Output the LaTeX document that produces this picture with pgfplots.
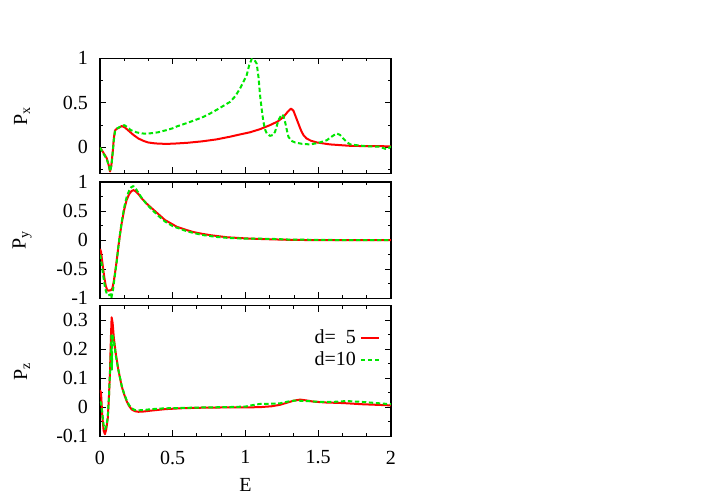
\documentclass[border=0pt]{standalone}
\usepackage{fontspec}
\setmainfont{Liberation Serif}
\usepackage{pgfplots}
\pgfplotsset{compat=1.18}
\definecolor{gpred}{RGB}{255,0,0}
\definecolor{gpgreen}{RGB}{0,230,0}
\pgfplotsset{
  panel/.style={
    scale only axis, width=145.5pt, xmin=0, xmax=2,
    xtick={0,0.5,1,1.5,2}, minor x tick num=2,
    tick align=inside,
    major tick length=3pt, minor tick length=1.5pt,
    tick style={black, line width=0.5pt},
    axis line style={line width=0.6pt},
    /pgf/number format/assume math mode=true,
    yticklabel style={xshift=-2.5pt},
    xticklabel style={yshift=-3.6pt},
    ylabel style={at={(axis description cs:-0.268,0.5)}, anchor=center},
    clip=true,
  },
  redline/.style={color=gpred, line width=1pt, line join=round},
  greenline/.style={color=gpgreen, line width=1pt, dash pattern=on 2.2pt off 1.3pt, line join=round},
}
\begin{document}
\begin{tikzpicture}
\useasboundingbox (0,0) rectangle (354pt,248pt);
% Panel 1: Px
\begin{axis}[panel, at={(50pt,161.35pt)}, anchor=south west, height=57.5pt,
  ymin=-0.29, ymax=1, ytick={0,0.5,1}, minor ytick={-0.25,0.25,0.75},
  xticklabels={}, ylabel={P\textsubscript{x}}]
\addplot[redline] coordinates {
(0,0) (0.02,-0.05) (0.046,-0.12) (0.06,-0.2) (0.069,-0.27) (0.078,-0.2) (0.088,-0.04) (0.095,0.1) (0.103,0.19) (0.115,0.21) (0.13,0.22) (0.149,0.24) (0.17,0.225) (0.195,0.19) (0.23,0.14) (0.264,0.10) (0.3,0.073) (0.33,0.056) (0.38,0.045) (0.447,0.04) (0.5,0.042) (0.6,0.052) (0.7,0.068) (0.8,0.09) (0.893,0.12) (0.96,0.145) (1.031,0.17) (1.1,0.205) (1.168,0.25) (1.22,0.29) (1.26,0.34) (1.29,0.40) (1.313,0.437) (1.33,0.41) (1.35,0.325) (1.37,0.24) (1.386,0.175) (1.40,0.135) (1.42,0.10) (1.45,0.075) (1.49,0.056) (1.58,0.034) (1.72,0.018) (1.85,0.014) (2.0,0.013)
};
\addplot[greenline] coordinates {
(0,0) (0.02,-0.06) (0.046,-0.13) (0.06,-0.2) (0.07,-0.27) (0.079,-0.2) (0.088,-0.05) (0.095,0.08) (0.103,0.18) (0.115,0.21) (0.13,0.225) (0.15,0.24) (0.167,0.25) (0.19,0.225) (0.21,0.195) (0.25,0.17) (0.287,0.157) (0.32,0.155) (0.355,0.16) (0.4,0.17) (0.447,0.19) (0.5,0.215) (0.527,0.235) (0.6,0.275) (0.7,0.335) (0.756,0.38) (0.8,0.42) (0.893,0.51) (0.93,0.575) (0.962,0.66) (0.99,0.75) (1.008,0.81) (1.025,0.92) (1.042,0.99) (1.06,0.985) (1.077,0.94) (1.09,0.78) (1.1,0.586) (1.112,0.42) (1.123,0.287) (1.135,0.2) (1.146,0.157) (1.168,0.13) (1.19,0.14) (1.203,0.175) (1.215,0.24) (1.226,0.305) (1.249,0.37) (1.26,0.355) (1.272,0.287) (1.285,0.19) (1.295,0.12) (1.315,0.075) (1.34,0.056) (1.39,0.04) (1.443,0.034) (1.5,0.05) (1.558,0.08) (1.6,0.13) (1.627,0.157) (1.65,0.14) (1.672,0.10) (1.7,0.055) (1.72,0.034) (1.79,0.02) (1.85,0.012) (1.92,0.008) (1.96,-0.015) (1.975,-0.02) (1.99,0) (2.0,0.01)
};
\end{axis}
% Panel 2: Py
\begin{axis}[panel, at={(50pt,98.85pt)}, anchor=south west, height=58.15pt,
  ymin=-1, ymax=1, ytick={-1,-0.5,0,0.5,1}, minor ytick={-0.75,-0.25,0.25,0.75},
  xticklabels={}, ylabel={P\textsubscript{y}}]
\addplot[redline] coordinates {
(0,-0.15) (0.007,-0.2) (0.015,-0.36) (0.023,-0.52) (0.031,-0.66) (0.039,-0.78) (0.048,-0.85) (0.057,-0.87) (0.066,-0.865) (0.076,-0.86) (0.085,-0.83) (0.094,-0.72) (0.103,-0.57) (0.115,-0.35) (0.126,-0.115) (0.137,0.09) (0.149,0.29) (0.166,0.52) (0.183,0.69) (0.2,0.79) (0.215,0.84) (0.229,0.86) (0.245,0.84) (0.265,0.79) (0.286,0.72) (0.32,0.63) (0.355,0.55) (0.4,0.45) (0.447,0.345) (0.5,0.27) (0.527,0.23) (0.6,0.17) (0.64,0.14) (0.7,0.11) (0.756,0.086) (0.87,0.05) (1.0,0.03) (1.1,0.02) (1.3,0.005) (1.5,0) (1.7,0) (2,0)
};
\addplot[greenline] coordinates {
(0,-0.25) (0.007,-0.33) (0.015,-0.48) (0.023,-0.62) (0.031,-0.76) (0.039,-0.86) (0.048,-0.93) (0.057,-0.95) (0.066,-0.94) (0.072,-0.93) (0.078,-1.0) (0.083,-0.93) (0.09,-0.85) (0.1,-0.65) (0.115,-0.37) (0.126,-0.12) (0.137,0.1) (0.149,0.31) (0.166,0.56) (0.183,0.74) (0.2,0.85) (0.215,0.91) (0.229,0.93) (0.245,0.89) (0.265,0.81) (0.286,0.73) (0.32,0.62) (0.355,0.53) (0.4,0.42) (0.447,0.32) (0.5,0.24) (0.6,0.15) (0.7,0.09) (0.8,0.055) (0.9,0.035) (1.0,0.025) (1.1,0.025) (1.2,0.02) (1.3,0.01) (1.5,0.005) (1.7,0) (2,0)
};
\end{axis}
% Panel 3: Pz
\begin{axis}[panel, at={(50pt,29.75pt)}, anchor=south west, height=65.4pt,
  ymin=-0.1, ymax=0.35, ytick={-0.1,0,0.1,0.2,0.3}, minor ytick={-0.05,0.05,0.15,0.25},
  ylabel={P\textsubscript{z}}, xlabel={E},
  xlabel style={at={(axis description cs:0.5,-0.371)}, anchor=center},
  legend cell align=right, legend plot pos=right,
  legend image code/.code={\draw[#1] (0pt,0pt) -- (9.2pt,0pt);},
  legend style={draw=none, fill=none, at={(axis description cs:0.985,0.88)}, anchor=north east, row sep=-1.5pt}]
\addplot[redline] coordinates {
(0,0.06) (0.007,0.05) (0.016,-0.03) (0.025,-0.08) (0.034,-0.092) (0.043,-0.075) (0.053,-0.04) (0.061,0.03) (0.069,0.13) (0.075,0.24) (0.08,0.31) (0.087,0.29) (0.095,0.24) (0.108,0.187) (0.126,0.13) (0.149,0.073) (0.166,0.045) (0.183,0.022) (0.2,0.005) (0.218,-0.007) (0.24,-0.013) (0.264,-0.015) (0.3,-0.014) (0.35,-0.011) (0.447,-0.006) (0.55,-0.003) (0.7,-0.001) (0.87,0) (1.0,0) (1.1,0.001) (1.18,0.004) (1.237,0.009) (1.29,0.017) (1.33,0.023) (1.375,0.027) (1.42,0.024) (1.466,0.02) (1.55,0.017) (1.67,0.015) (1.8,0.011) (1.9,0.009) (2.0,0.007)
};
\addlegendentry{d=\hphantom{0}5}
\addplot[greenline] coordinates {
(0,0.02) (0.007,0.016) (0.016,-0.02) (0.025,-0.06) (0.034,-0.075) (0.043,-0.065) (0.053,-0.035) (0.061,0.03) (0.069,0.12) (0.075,0.2) (0.079,0.255) (0.082,0.13) (0.085,0.25) (0.09,0.24) (0.098,0.22) (0.108,0.18) (0.126,0.13) (0.149,0.075) (0.166,0.047) (0.183,0.025) (0.2,0.008) (0.218,-0.003) (0.24,-0.009) (0.264,-0.01) (0.3,-0.009) (0.35,-0.006) (0.447,-0.003) (0.55,-0.002) (0.7,0) (0.87,0.001) (1.0,0.003) (1.05,0.008) (1.1,0.012) (1.2,0.013) (1.237,0.014) (1.29,0.02) (1.33,0.023) (1.375,0.023) (1.42,0.022) (1.51,0.019) (1.6,0.019) (1.695,0.022) (1.8,0.019) (1.9,0.015) (2.0,0.011)
};
\addlegendentry{d=10}
\end{axis}
\end{tikzpicture}
\end{document}
